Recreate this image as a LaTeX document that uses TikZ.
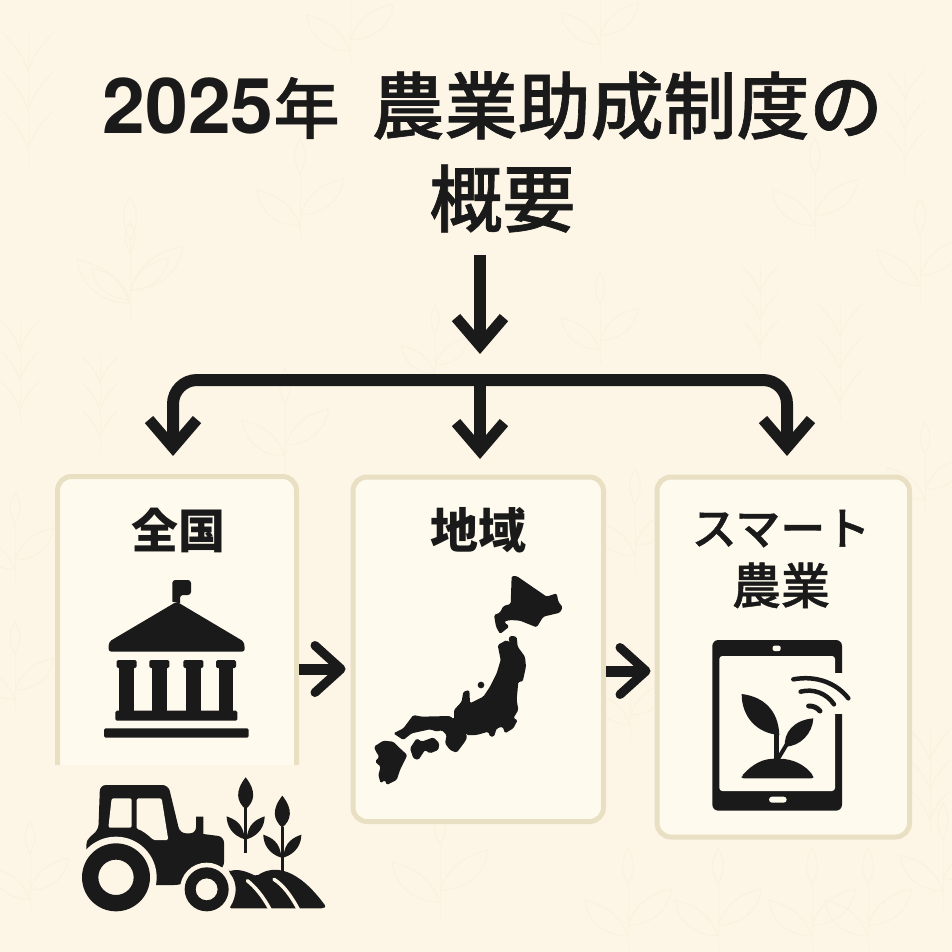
\documentclass[tikz,border=0pt]{standalone}
\usepackage{fontspec}
\setmainfont{Noto Sans CJK JP}
\newfontfamily\jpmedium[FakeBold=.9]{Noto Sans CJK JP Medium}
\newfontfamily\digitfont{TeX Gyre Heros}
\usetikzlibrary{arrows.meta}
\definecolor{paper}{HTML}{FDF6E6}
\definecolor{cardfill}{HTML}{FFFAEE}
\definecolor{cardline}{HTML}{E9DFC3}
\definecolor{faint}{HTML}{FAF1DE}
\definecolor{ink}{HTML}{1A1A1A}
\tikzset{
	cardbox/.style = {draw=cardline, line width=5pt, fill=cardfill, rounded corners=14pt, inner sep=0pt},
	cardopen/.style = {inner sep=0pt, outer sep=0pt},
	cardtitle/.style = {font=\bfseries\fontsize{44}{59}\selectfont, text=ink, align=center, inner sep=0pt},
	maintitle/.style = {font=\jpmedium\fontsize{73}{93}\selectfont, text=ink, align=center, inner sep=0pt},
	bigarrow/.style = {draw=ink, line width=12pt, -{Straight Barb[length=28pt, width=48pt, line width=11pt]}},
	sidearrow/.style = {draw=ink, line width=11pt, -{Straight Barb[length=26pt, width=47pt, line width=9pt, round]}},
	icon/.style = {fill=ink, draw=none},
	cutout/.style = {fill=cardfill, draw=none},
	cutbg/.style = {fill=paper, draw=none},
	motif/.pic = {
		\draw (0,30) -- (0,-45);
		\draw (0,-45) .. controls (8,-62) and (8,-70) .. (0,-85) .. controls (-8,-70) and (-8,-62) .. (0,-45);
		\draw (0,0) .. controls (12,-30) and (30,-35) .. (48,-40) .. controls (45,-15) and (25,0) .. (0,0);
		\draw (0,12) .. controls (-12,-18) and (-30,-22) .. (-48,-28) .. controls (-45,-3) and (-25,12) .. (0,12);
	},
	wheat/.pic = {
		\draw (0,45) -- (0,-60);
		\foreach \ly in {-30,0,30} {
			\draw (0,\ly) .. controls (-5,\ly-15) and (-15,\ly-25) .. (-20,\ly-30);
			\draw (0,\ly) .. controls (5,\ly-15) and (15,\ly-25) .. (20,\ly-30);
		}
	},
	sprout/.pic = {
		\fill[ink] (-1.7,40) rectangle (1.7,-5);
		\fill[ink] (0,-36) .. controls (-11,-22) and (-9,-12) .. (0,-4) .. controls (9,-12) and (11,-22) .. (0,-36) -- cycle;
		\fill[ink] (-1,26) .. controls (-14,22) and (-19,12) .. (-19,3) .. controls (-11,6) and (-2,10) .. (-1,26) -- cycle;
		\fill[ink] (1,26) .. controls (14,22) and (19,12) .. (19,3) .. controls (11,6) and (2,10) .. (1,26) -- cycle;
	}
}

\begin{document}
\begin{tikzpicture}[x=1pt, y=-1pt]
	\useasboundingbox (0,0) rectangle (952,952);
	\fill[paper] (0,0) rectangle (952,952);

	% plants behind everything
	\begin{scope}[draw=faint, line width=1pt]
		\foreach \px/\py/\ps in {350/40/.9, 600/35/.8, 300/215/.9, 815/215/.9, 130/290/1.1, 600/340/.8, 920/275/.9, 435/365/.7, 285/445/.9, 635/545/.9, 630/715/.8, 15/560/.8, 15/690/.8, 440/890/1, 628/925/.9, 718/925/.9, 812/925/.9, 868/925/.9, 943/880/.9, 925/490/.8, 30/890/.8, 130/290/.8}
			\pic[scale=\ps] at (\px,\py) {motif};
		\foreach \px/\py/\ps in {28/110/1.3, 20/380/1, 100/410/.9, 760/320/.9, 840/370/1.1, 905/130/1, 930/790/1}
			\pic[scale=\ps] at (\px,\py) {wheat};
	\end{scope}

	% cards
	\node[cardopen, minimum width=239pt, minimum height=288.5pt] (zenkoku) at (177,620.75) {};
	\draw[draw=cardline, line width=5pt, fill=cardfill, rounded corners=14pt] (zenkoku.south west) |- (zenkoku.north) -| (zenkoku.south east);
	\node[cardbox, minimum width=250.5pt, minimum height=344.5pt] (chiiki) at (478.25,649.25) {};
	\node[cardbox, minimum width=252.5pt, minimum height=360pt] (smart) at (783.25,657) {};

	% labels
	\node[maintitle] (title) at (492.5,152) {{\digitfont\bfseries\fontsize{77}{93}\selectfont 2025}{\fontsize{66}{93}\selectfont 年}\hspace{32pt}農業助成制度の\\\hspace*{20pt}概要};
	\node[cardtitle, font=\bfseries\fontsize{47}{59}\selectfont] (zenkokulabel) at (178,530) {全国};
	\node[cardtitle, font=\bfseries\fontsize{48}{59}\selectfont] (chiikilabel) at (478,530) {地域};
	\node[cardtitle, font=\jpmedium\fontsize{45}{59}\selectfont] (smartlabel) at (781,559) {スマート\\\fontsize{49}{59}\selectfont 農業};

	% arrows
	\coordinate (hubin) at (480,255);
	\coordinate (hubtip) at (480,354);
	\coordinate (hub) at (480,380);
	\coordinate (tipzenkoku) at (173,456);
	\coordinate (tipchiiki) at (480,459);
	\coordinate (tipsmart) at (787,456);
	\draw[bigarrow] (hubin) -- (hubtip);
	\draw[draw=ink, line width=12pt, rounded corners=24pt, -{Straight Barb[length=28pt, width=48pt, line width=11pt]}] (hub) -| (tipzenkoku);
	\draw[draw=ink, line width=12pt, rounded corners=24pt, -{Straight Barb[length=28pt, width=48pt, line width=11pt]}] (hub) -| (tipsmart);
	\draw[bigarrow] (hub) -- (tipchiiki);
	\draw[sidearrow, shorten <=2.5pt, shorten >=5pt] (zenkoku.east |- 0,669) -- (chiiki.west |- 0,669);
	\draw[sidearrow, shorten >=4pt] (chiiki.east |- 0,671) -- (smart.west |- 0,671);

	% building
	\begin{scope}[shift={(40,460)}, scale=1/3]
		\filldraw[icon] (397,425) -- (397,367) [rounded corners=3pt] -- (397,360) -- (453,360) -- (453,405) -- (420,405) [sharp corners] -- (420,430) -- cycle;
		\fill[ink, rounded corners=3pt] (410,425) -- (612,545) -- (615,575) -- (205,575) -- (207,545) -- cycle;
		\fill[ink, rounded corners=1.5pt] (226,782) -- (226,752) -- (592,752) -- (592,782) -- cycle;
		\foreach \cx in {260,358,460,558} {
			\fill[ink] (\cx-22,622) rectangle (\cx+22,760);
			\fill[ink, rounded corners=1.5pt] (\cx-30,600) rectangle (\cx+30,624);
		}
		\fill[ink, rounded corners=1.5pt] (192,805) rectangle (626,833);
	\end{scope}

	% tractor
	\begin{scope}[shift={(40,460)}, scale=1/3]
		\fill[ink, rounded corners=6pt] (135,1158) .. controls (145,1135) and (160,1122) .. (175,1112) -- (180,975) -- (385,975) -- (420,1120) -- (468,1120) [sharp corners] -- (468,1070) -- (490,1070) -- (490,1122) [rounded corners=6pt] -- (552,1130) -- (552,1225) -- (420,1275) -- (300,1275) -- (150,1200) -- cycle;
		\fill[paper, rounded corners=1.5pt] (215,1015) -- (275,1015) -- (275,1103) -- (205,1103) -- cycle;
		\fill[paper, rounded corners=1.5pt] (290,1015) -- (365,1015) -- (385,1140) -- (340,1140) .. controls (325,1125) and (305,1110) .. (290,1107) -- cycle;
		\fill[cutbg] (228,1252) circle (122);
		\fill[ink, even odd rule] (228,1252) circle (102) (228,1252) circle (53);
		\fill[ink, rounded corners=2pt] (566,1235) .. controls (600,1222) and (640,1245) .. (650,1248) .. controls (700,1215) and (770,1220) .. (858,1340) -- (850,1345) -- (568,1345) .. controls (590,1310) and (595,1270) .. (566,1235) -- cycle;
		\fill[cutbg] (500,1288) circle (80);
		\fill[ink, even odd rule] (500,1288) circle (66) (500,1288) circle (33);
		\draw[paper, line width=3.5pt, line cap=round] (622,1262) .. controls (645,1280) and (670,1310) .. (690,1348);
		\draw[paper, line width=3.5pt, line cap=round] (702,1258) .. controls (730,1275) and (755,1310) .. (775,1348);
		\pic[scale=1] at (617,1060) {sprout};
		\pic[scale=1] at (727,1115) {sprout};
	\end{scope}

	% map
	\begin{scope}[shift={(350,470)}, scale=1/3, fill=ink, rounded corners=1.5pt]
		\fill (485,318) -- (500,318) -- (590,380) -- (620,370) -- (625,395) -- (638,412) -- (630,428) -- (580,440) -- (560,472) -- (510,452) -- (480,450) -- (462,455) -- (478,470) -- (450,492) -- (438,470) -- (432,435) -- (450,428) -- (460,408) -- (482,402) -- cycle;
		\fill (480,497) -- (500,500) -- (503,530) -- (525,560) -- (528,590) -- (518,635) -- (505,635) -- (500,690) -- (505,720) -- (490,745) -- (503,750) -- (490,775) -- (465,790) -- (458,770) -- (440,775) -- (432,800) -- (420,800) -- (415,785) -- (380,795) -- (350,795) -- (340,780) -- (352,800) -- (345,815) -- (320,848) -- (300,840) -- (285,820) -- (290,795) -- (275,780) -- (262,785) -- (240,778) -- (185,790) -- (160,810) -- (130,790) -- (160,775) -- (190,735) -- (215,740) -- (300,738) -- (312,748) -- (312,720) -- (335,695) -- (340,665) -- (358,660) -- (360,700) -- (400,680) -- (420,650) -- (440,610) -- (452,570) -- (443,525) -- (470,510) -- (490,525) -- (475,512) -- cycle;
		\fill[sharp corners] (393,645) circle (10);
		\fill (180,835) -- (200,805) -- (215,815) -- (250,802) -- (268,820) -- (265,840) -- (240,850) -- (225,840) -- (205,870) -- (190,865) -- cycle;
		\fill (72,830) -- (100,812) -- (130,815) -- (150,835) -- (172,855) -- (150,900) -- (140,930) -- (110,945) -- (105,930) -- (92,940) -- (85,915) -- (92,890) -- (75,875) -- (88,860) -- (78,845) -- cycle;
	\end{scope}

	% tablet
	\begin{scope}[shift={(650,470)}, scale=1/3]
		\fill[ink, rounded corners=6pt] (187,510) rectangle (576,1022);
		\fill[cutout, rounded corners=3pt] (208,558) rectangle (555,963);
		\fill[cutout] (550,608) rectangle (580,733);
		\fill[cutout, rounded corners=2pt] (368,527) rectangle (392,543);
		\fill[cutout, rounded corners=3pt] (357,980) rectangle (410,998);
		\draw[ink, line width=4.5pt, line cap=round] (430,628) .. controls (500,615) and (560,640) .. (595,685);
		\draw[ink, line width=4.5pt, line cap=round] (452,665) .. controls (490,655) and (530,670) .. (552,703);
		\draw[ink, line width=5pt, line cap=round] (476,708) .. controls (490,708) and (500,712) .. (510,723);
		\fill[ink] (275,672) .. controls (340,680) and (385,720) .. (388,795) .. controls (320,790) and (275,740) .. (275,672) -- cycle;
		\fill[ink] (490,745) .. controls (488,790) and (450,830) .. (405,830) .. controls (400,790) and (430,750) .. (490,745) -- cycle;
		\fill[ink] (372,780) rectangle (388,880);
		\draw[ink, line width=4pt] (385,865) -- (415,815);
		\fill[ink, rounded corners=2pt] (275,918) .. controls (310,880) and (340,866) .. (380,866) .. controls (430,866) and (465,885) .. (490,918) -- (490,925) -- (275,925) -- cycle;
	\end{scope}
\end{tikzpicture}
\end{document}
